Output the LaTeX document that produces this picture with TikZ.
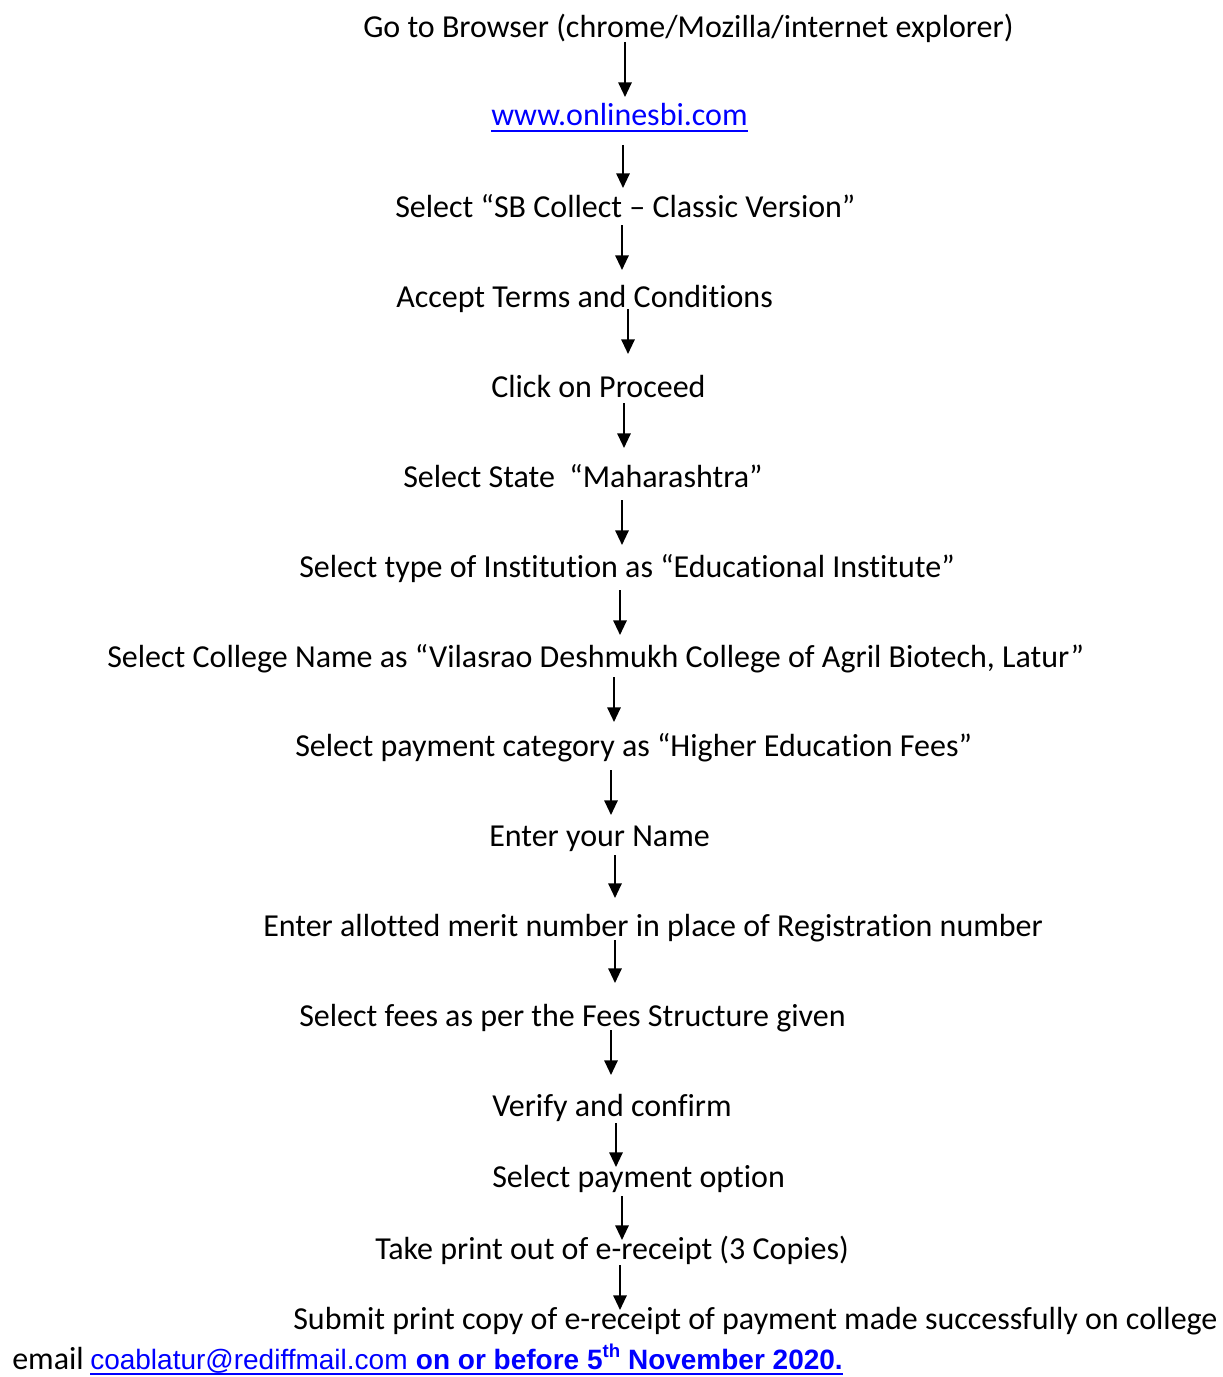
\documentclass[tikz,border=0pt]{standalone}
\usepackage{fontspec}
\setmainfont{Carlito}[Ligatures=NoCommon]
\newfontfamily\arialfont{Liberation Sans}
\usetikzlibrary{arrows.meta}
\definecolor{linkblue}{RGB}{0,0,255}

\begin{document}
\begin{tikzpicture}[x=0.75pt,y=-0.75pt,
  line/.style={anchor=base west,inner sep=0pt,font=\fontsize{24}{28}\selectfont},
  mail/.style={anchor=base west,inner sep=0pt,text=linkblue,font=\arialfont\fontsize{21}{25}\selectfont},
  arr/.style={-{Triangle[length=11pt,width=10pt]},draw=black,line width=1.5pt}]
\useasboundingbox (0,0) rectangle (1222,1377);
\node[line] (0) at (363,38) {Go to Browser (chrome/Mozilla/internet explorer)};
\node[line,text=linkblue] (1) at (491,126) {www.onlinesbi.com};
\node[line] (2) at (395,217) {Select “SB Collect – Classic Version”};
\node[line] (3) at (396,307) {Accept Terms and Conditions};
\node[line] (4) at (491,397) {Click on Proceed};
\node[line] (5) at (403,487) {Select State~ “Maharashtra”};
\node[line] (6) at (299,577) {Select type of Institution as “Educational Institute”};
\node[line] (7) at (107,667) {Select College Name as “Vilasrao Deshmukh College of Agril Biotech, Latur”};
\node[line] (8) at (295,756) {Select payment category as “Higher Education Fees”};
\node[line] (9) at (489,846) {Enter your Name};
\node[line] (10) at (263,936) {Enter allotted merit number in place of Registration number};
\node[line] (11) at (299,1026) {Select fees as per the Fees Structure given};
\node[line] (12) at (492,1116) {Verify and confirm};
\node[line] (13) at (492,1187) {Select payment option};
\node[line] (14) at (375,1259) {Take print out of e-receipt (3 Copies)};
\node[line] (15) at (293,1329) {Submit print copy of e-receipt of payment made successfully on college};
\node[line] (16) at (12,1369) {email};
\node[mail] (17) at (90,1369) {coablatur@rediffmail.com};
\node[mail,font=\arialfont\bfseries\fontsize{21}{25}\selectfont] (18) at (17.base east) {\ on or before 5\raisebox{0.42em}{\fontsize{14}{14}\selectfont th} November 2020.};

\coordinate (t0) at (625,42);   \coordinate (h0) at (625,97);
\coordinate (t1) at (623,145);  \coordinate (h1) at (623,188);
\coordinate (t2) at (622,225);  \coordinate (h2) at (622,270);
\coordinate (t3) at (628,309);  \coordinate (h3) at (628,354);
\coordinate (t4) at (624,403);  \coordinate (h4) at (624,448);
\coordinate (t5) at (622,500);  \coordinate (h5) at (622,545);
\coordinate (t6) at (620,590);  \coordinate (h6) at (620,635);
\coordinate (t7) at (614,677);  \coordinate (h7) at (614,722);
\coordinate (t8) at (611,770);  \coordinate (h8) at (611,815);
\coordinate (t9) at (615,855);  \coordinate (h9) at (615,898);
\coordinate (t10) at (615,940); \coordinate (h10) at (615,983);
\coordinate (t11) at (611,1030); \coordinate (h11) at (611,1075);
\coordinate (t12) at (616,1123); \coordinate (h12) at (616,1167);
\coordinate (t13) at (622,1196); \coordinate (h13) at (622,1240);
\coordinate (t14) at (620,1265); \coordinate (h14) at (620,1310);

\draw [arr] (t0) -- (h0);
\draw [arr] (t1) -- (h1);
\draw [arr] (t2) -- (h2);
\draw [arr] (t3) -- (h3);
\draw [arr] (t4) -- (h4);
\draw [arr] (t5) -- (h5);
\draw [arr] (t6) -- (h6);
\draw [arr] (t7) -- (h7);
\draw [arr] (t8) -- (h8);
\draw [arr] (t9) -- (h9);
\draw [arr] (t10) -- (h10);
\draw [arr] (t11) -- (h11);
\draw [arr] (t12) -- (h12);
\draw [arr] (t13) -- (h13);
\draw [arr] (t14) -- (h14);

\draw [linkblue,line width=1.5pt] ([yshift=-3.8pt]1.base west) -- ([yshift=-3.8pt]1.base east);
\draw [linkblue,line width=1.2pt] ([yshift=-3.8pt]17.base west) -- ([yshift=-3.8pt]18.base east);
\end{tikzpicture}
\end{document}
